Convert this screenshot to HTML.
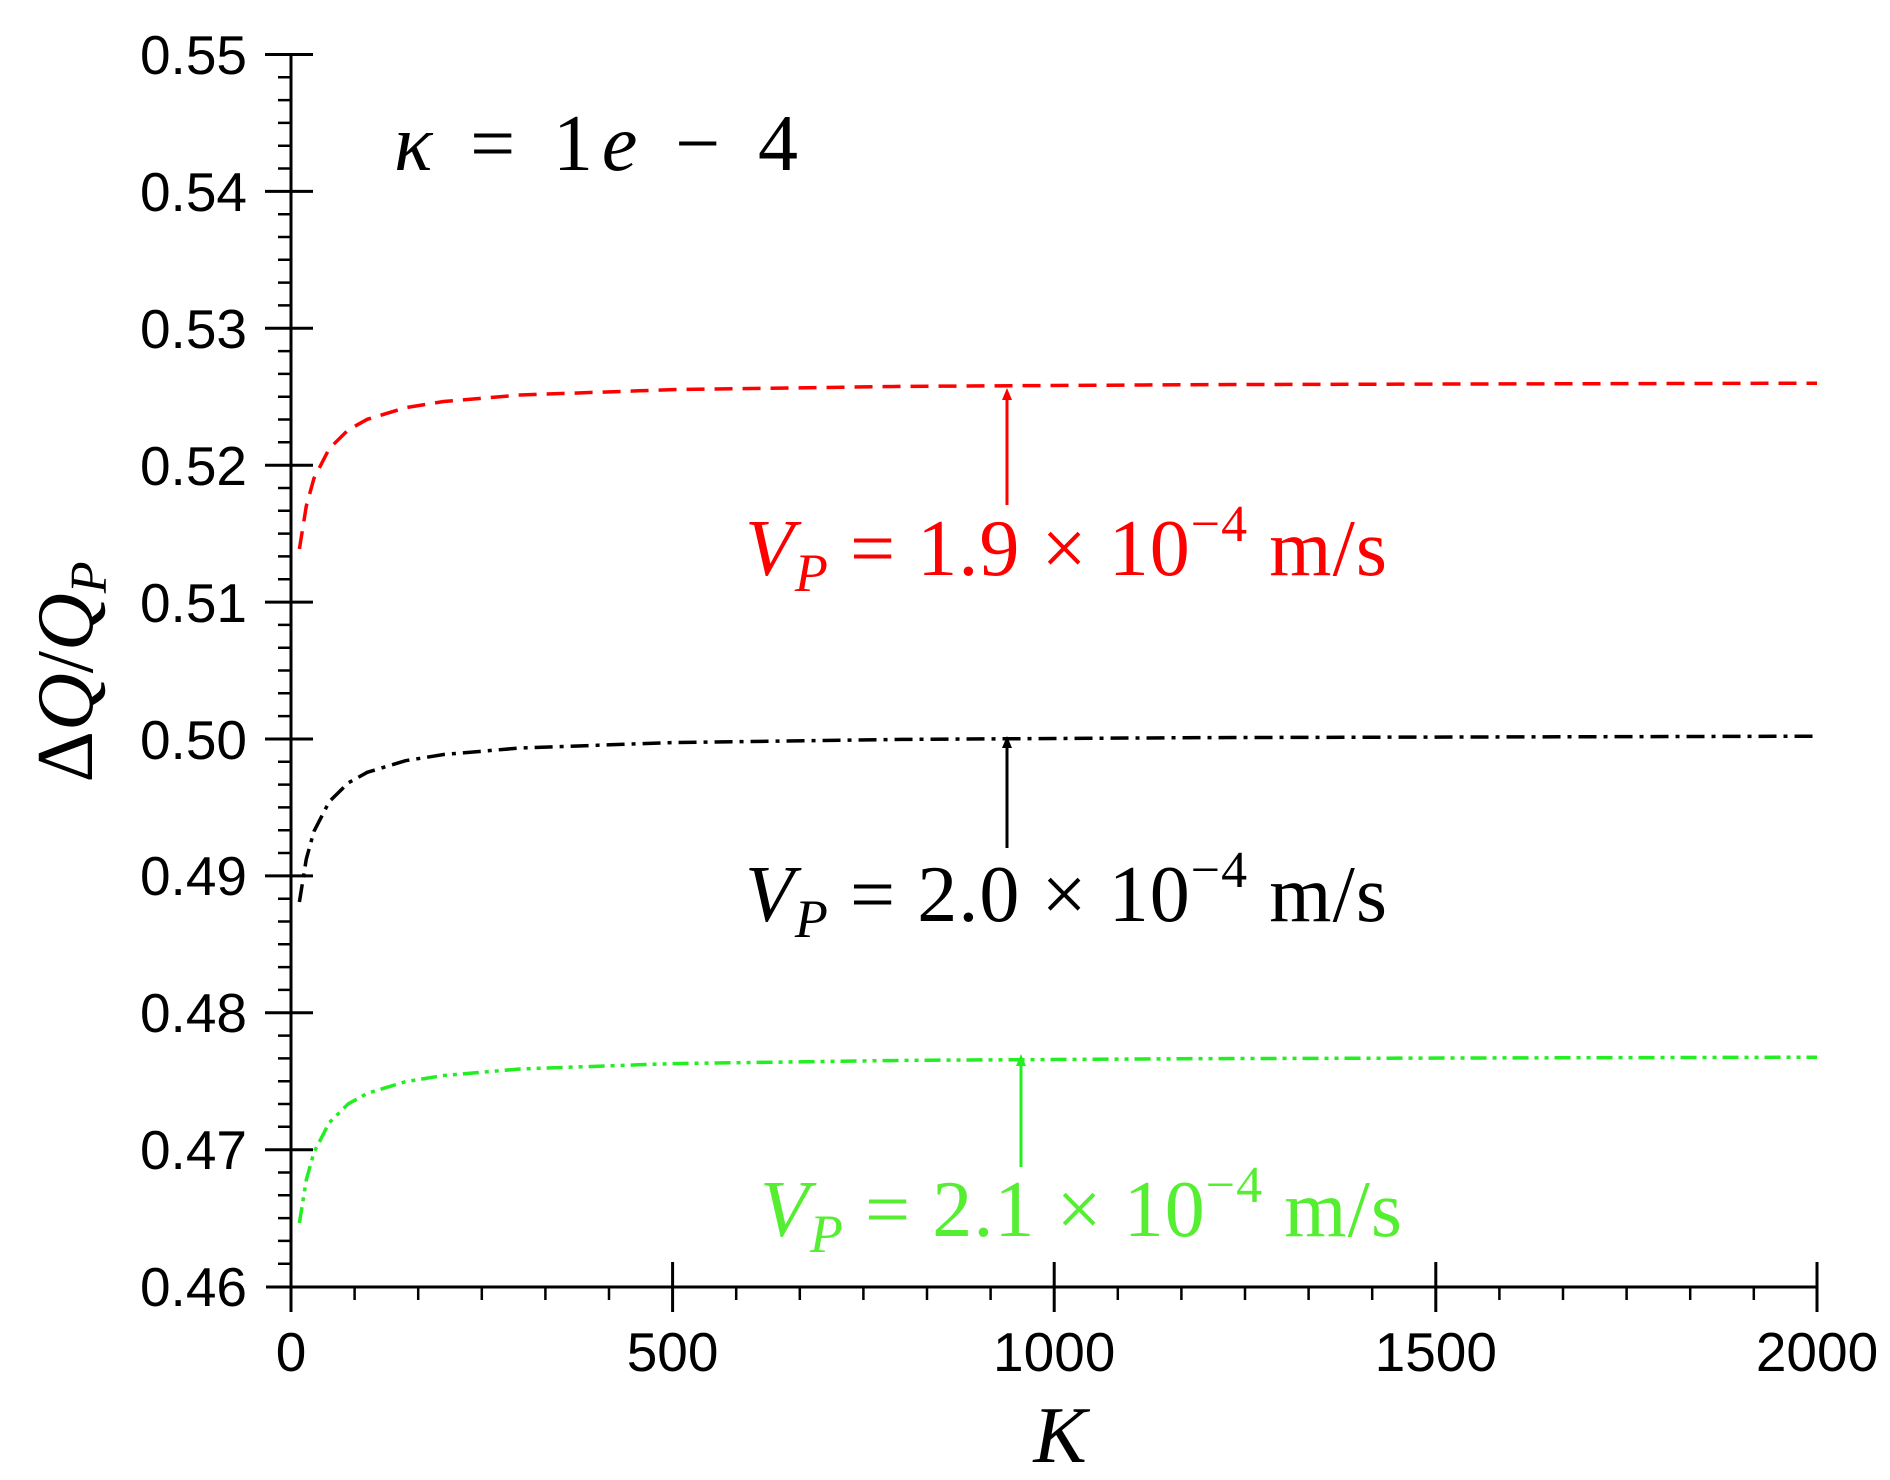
<!DOCTYPE html>
<html><head><meta charset="utf-8"><style>
html,body{margin:0;padding:0;background:#fff;}
svg{display:block}
.t{font-family:"Liberation Sans",Arial,sans-serif;font-size:55px;fill:#000}
.m{font-family:"Liberation Serif",serif;font-size:80px}
</style></head><body>
<svg width="1890" height="1480" viewBox="0 0 1890 1480" xmlns="http://www.w3.org/2000/svg">
<defs>
<path id="c" fill="none" stroke-width="3.5" d="M299.4,168 L306.3,125 313.9,97.5 329.2,67.7 348.2,48.9 367.3,38.3 405.5,26.7 443.6,20.5 520,14 672.6,8.6 901.6,5.4 1206.8,3.6 1817,2.2"/>
</defs>
<g stroke="#000" stroke-width="3">
<line x1="291" y1="54" x2="291" y2="1288"/>
<line x1="266" y1="1287" x2="1817" y2="1287"/>
<path d="M265,54.5H313M265,191.4H313M265,328.3H313M265,465.2H313M265,602.1H313M265,739H313M265,875.9H313M265,1012.8H313M265,1149.7H313"/>
<path d="M291,1262V1312M672.6,1262V1312M1054.2,1262V1312M1435.8,1262V1312M1817,1262V1312"/>
</g>
<g stroke="#000" stroke-width="2.5">
<path d="
M278,77.3H291M278,100.1H291M278,122.9H291M278,145.7H291M278,168.5H291
M278,214.2H291M278,237H291M278,259.8H291M278,282.6H291M278,305.4H291
M278,351.1H291M278,373.9H291M278,396.7H291M278,419.5H291M278,442.3H291
M278,488H291M278,510.8H291M278,533.6H291M278,556.4H291M278,579.2H291
M278,624.9H291M278,647.7H291M278,670.5H291M278,693.3H291M278,716.1H291
M278,761.8H291M278,784.6H291M278,807.4H291M278,830.2H291M278,853H291
M278,898.7H291M278,921.5H291M278,944.3H291M278,967.1H291M278,989.9H291
M278,1035.6H291M278,1058.4H291M278,1081.2H291M278,1104H291M278,1126.8H291
M278,1172.5H291M278,1195.3H291M278,1218.1H291M278,1240.9H291M278,1263.7H291"/>
<path d="
M354.6,1287V1300M418.2,1287V1300M481.8,1287V1300M545.4,1287V1300M609,1287V1300
M736.2,1287V1300M799.8,1287V1300M863.4,1287V1300M927,1287V1300M990.6,1287V1300
M1117.8,1287V1300M1181.4,1287V1300M1245,1287V1300M1308.6,1287V1300M1372.2,1287V1300
M1499.4,1287V1300M1563,1287V1300M1626.6,1287V1300M1690.2,1287V1300M1753.8,1287V1300"/>
</g>
<g class="t" text-anchor="end">
<text x="247" y="74">0.55</text>
<text x="247" y="211">0.54</text>
<text x="247" y="348">0.53</text>
<text x="247" y="485">0.52</text>
<text x="247" y="622">0.51</text>
<text x="247" y="759">0.50</text>
<text x="247" y="895">0.49</text>
<text x="247" y="1032">0.48</text>
<text x="247" y="1169">0.47</text>
<text x="247" y="1306">0.46</text>
</g>
<g class="t" text-anchor="middle">
<text x="291" y="1371">0</text>
<text x="672.6" y="1371">500</text>
<text x="1054.2" y="1371">1000</text>
<text x="1435.8" y="1371">1500</text>
<text x="1817" y="1371">2000</text>
</g>
<use href="#c" stroke="#ff0000" stroke-dasharray="18,10" transform="translate(0,381)"/>
<use href="#c" stroke="#000" stroke-dasharray="18,7,4,7" transform="translate(0,734)"/>
<use href="#c" stroke="#22ee22" stroke-dasharray="16,6,4,6,4,6" transform="translate(0,1055)"/>
<g stroke-width="3">
<line x1="1007" y1="505" x2="1007" y2="398" stroke="#ff0000"/>
<line x1="1007" y1="848" x2="1007" y2="746" stroke="#000"/>
<line x1="1021" y1="1167" x2="1021" y2="1064" stroke="#22ee22"/>
</g>
<path d="M1002,400 L1007,388 L1012,400Z" fill="#ff0000"/>
<path d="M1002,748 L1007,736 L1012,748Z" fill="#000"/>
<path d="M1016,1066 L1021,1054 L1026,1066Z" fill="#22ee22"/>
<text class="m" font-size="88" x="394" y="170" fill="#000" textLength="404" lengthAdjust="spacing"><tspan font-style="italic">κ</tspan> = 1<tspan font-style="italic">e</tspan> − 4</text>
<text class="m" x="745" y="575" fill="#ff0000" textLength="642" lengthAdjust="spacing"><tspan font-style="italic">V</tspan><tspan font-style="italic" font-size="54" dy="16">P</tspan><tspan dy="-16"> = 1.9 × 10</tspan><tspan font-size="52" dy="-34">−4</tspan><tspan dy="34"> m/s</tspan></text>
<text class="m" x="745" y="921" fill="#000" textLength="642" lengthAdjust="spacing"><tspan font-style="italic">V</tspan><tspan font-style="italic" font-size="54" dy="16">P</tspan><tspan dy="-16"> = 2.0 × 10</tspan><tspan font-size="52" dy="-34">−4</tspan><tspan dy="34"> m/s</tspan></text>
<text class="m" x="760" y="1236" fill="#55ee33" textLength="642" lengthAdjust="spacing"><tspan font-style="italic">V</tspan><tspan font-style="italic" font-size="54" dy="16">P</tspan><tspan dy="-16"> = 2.1 × 10</tspan><tspan font-size="52" dy="-34">−4</tspan><tspan dy="34"> m/s</tspan></text>
<text class="m" font-size="80" transform="translate(92,672) rotate(-90)" text-anchor="middle" fill="#000">Δ<tspan font-style="italic">Q</tspan>/<tspan font-style="italic">Q</tspan><tspan font-style="italic" font-size="52" dy="14">P</tspan></text>
<text class="m" x="1060" y="1462" text-anchor="middle" font-style="italic" fill="#000">K</text>
</svg>
</body></html>
